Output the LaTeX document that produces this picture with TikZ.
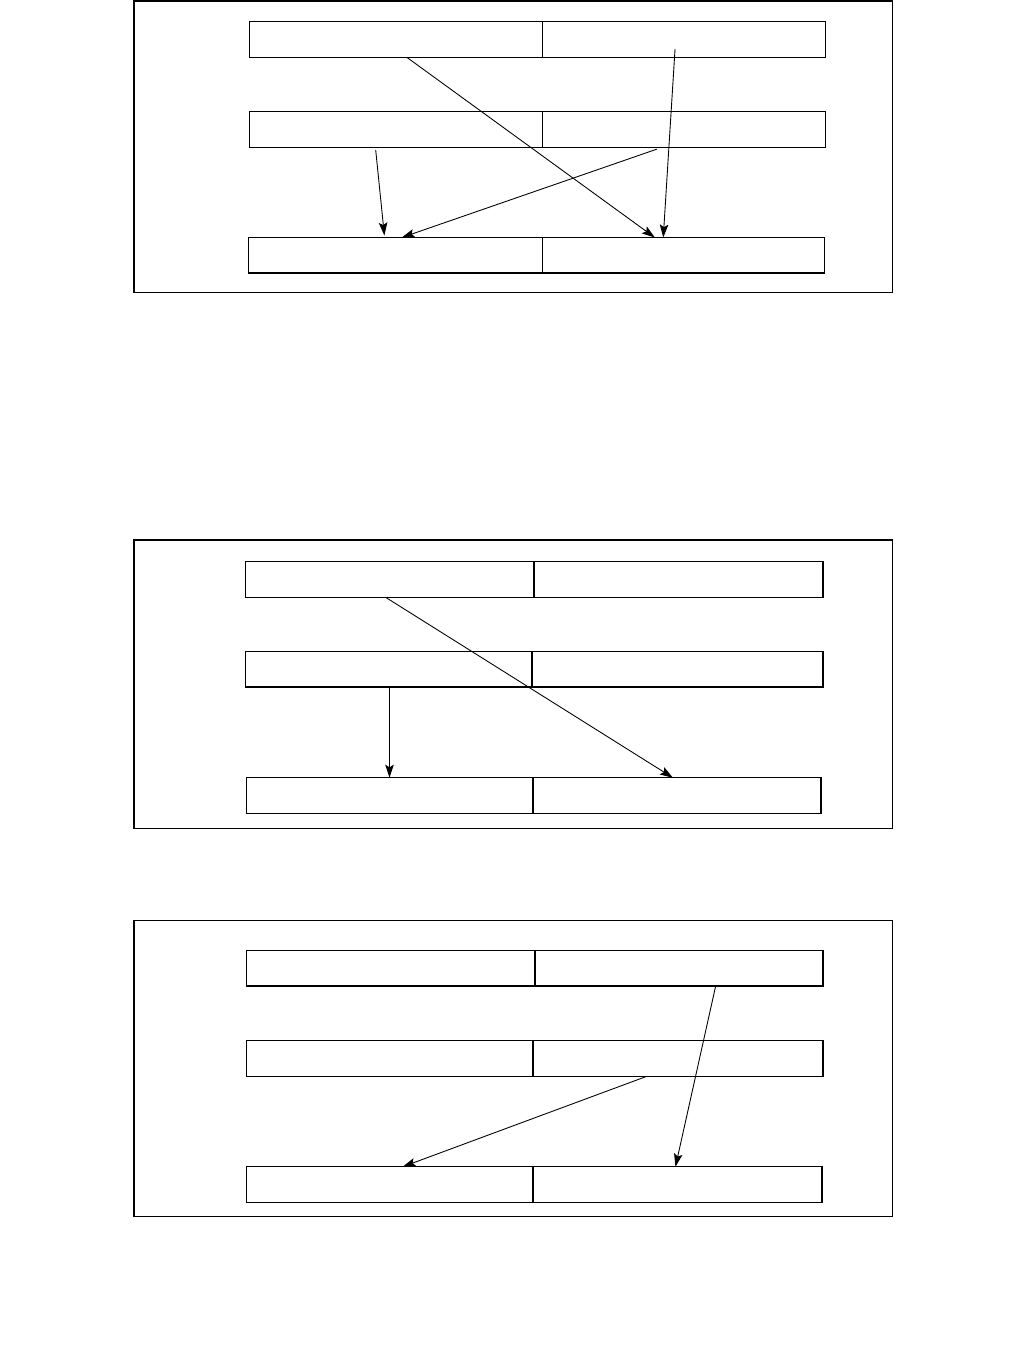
\documentclass[tikz,border=0pt]{standalone}
\usetikzlibrary{arrows.meta,positioning,calc}

\begin{document}
\begin{tikzpicture}[
    x=0.02cm, y=-0.02cm,
    >={Stealth[length=2.6mm, width=1.7mm, inset=0.5mm]},
    cell/.style={draw, line width=0.7pt, minimum height=0.71cm, inner sep=0pt, outer sep=0pt},
    frame/.style={draw, line width=0.7pt},
    link/.style={->, line width=0.5pt},
]
    \useasboundingbox (0,0) rectangle (1026,1358);

    % --- Panel 1 ---
    \draw[frame] (134,1) rectangle (892.6,292.3);

    \node[cell, minimum width=5.87cm, anchor=west] (r11l) at (249.4,39.5) {};
    \node[cell, minimum width=5.65cm, right=0pt of r11l] (r11r) {};
    \node[cell, minimum width=5.87cm, anchor=west] (r12l) at (249.4,129.4) {};
    \node[cell, minimum width=5.65cm, right=0pt of r12l] (r12r) {};
    \node[cell, minimum width=5.89cm, anchor=west] (r13l) at (248.4,255.3) {};
    \node[cell, minimum width=5.63cm, right=0pt of r13l] (r13r) {};

    \draw[link] ($(r11l.south west)+(157.3,0)$) -- ($(r13r.north west)+(112,0)$);
    \draw[link] ($(r11r.south west)+(132.2,-8.3)$) -- ($(r13r.north west)+(120.4,0)$);
    \draw[link] ($(r12l.south west)+(126.3,3)$) -- ($(r13l.north west)+(136,-2)$);
    \draw[link] ($(r12r.south west)+(114,2)$) -- ($(r13l.north west)+(153.3,0)$);

    % --- Panel 2 ---
    \draw[frame] (134,540) rectangle (892.6,828.3);

    \node[cell, minimum width=5.77cm, anchor=west] (r21l) at (245.5,579.5) {};
    \node[cell, minimum width=5.78cm, right=0pt of r21l] (r21r) {};
    \node[cell, minimum width=5.73cm, anchor=west] (r22l) at (245.5,669.3) {};
    \node[cell, minimum width=5.82cm, right=0pt of r22l] (r22r) {};
    \node[cell, minimum width=5.73cm, anchor=west] (r23l) at (246.5,795.5) {};
    \node[cell, minimum width=5.76cm, right=0pt of r23l] (r23r) {};

    \draw[link] ($(r21l.south west)+(140,0)$) -- ($(r23r.north west)+(140,0)$);
    \draw[link] ($(r22l.south west)+(144,0)$) -- ($(r23l.north west)+(143,0)$);

    % --- Panel 3 ---
    \draw[frame] (134,920.3) rectangle (892.6,1216.7);

    \node[cell, minimum width=5.77cm, anchor=west] (r31l) at (246.5,968.3) {};
    \node[cell, minimum width=5.76cm, right=0pt of r31l] (r31r) {};
    \node[cell, minimum width=5.73cm, anchor=west] (r32l) at (246.5,1058.5) {};
    \node[cell, minimum width=5.80cm, right=0pt of r32l] (r32r) {};
    \node[cell, minimum width=5.73cm, anchor=west] (r33l) at (246.5,1184.5) {};
    \node[cell, minimum width=5.78cm, right=0pt of r33l] (r33r) {};

    \draw[link] ($(r31r.south west)+(180.7,0)$) -- ($(r33r.north west)+(142.5,0)$);
    \draw[link] ($(r32r.south west)+(114,0)$) -- ($(r33l.north west)+(156.2,0)$);

\end{tikzpicture}
\end{document}
